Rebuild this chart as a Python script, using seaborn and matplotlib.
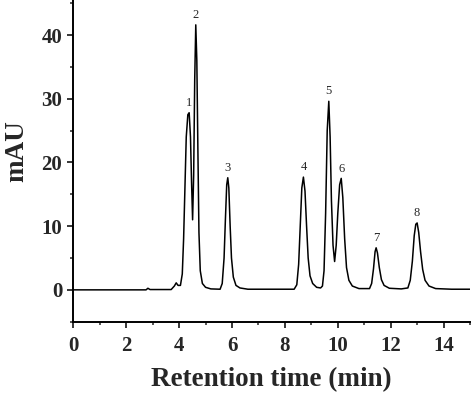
import numpy as np
import pandas as pd
import seaborn as sns
import matplotlib.pyplot as plt
from matplotlib.ticker import MultipleLocator

# chromatogram trace (min, mAU)
time_min = [0.0, 2.75, 2.82, 2.9, 3.7, 3.82, 3.89, 3.96, 4.05,
            4.12, 4.17, 4.22, 4.27, 4.33, 4.38, 4.43, 4.47, 4.51, 4.55, 4.59,
            4.63, 4.67, 4.71, 4.75, 4.80, 4.88, 5.0, 5.2,
            5.55, 5.63, 5.70, 5.75, 5.80, 5.84, 5.88, 5.93, 5.98, 6.05, 6.15,
            6.3, 6.6,
            8.35, 8.45, 8.52, 8.58, 8.64, 8.70, 8.76, 8.82, 8.88, 8.95, 9.05,
            9.2, 9.35,
            9.42, 9.48, 9.54, 9.60, 9.66, 9.71, 9.76, 9.82, 9.88, 9.94, 10.0,
            10.07, 10.13, 10.19, 10.26, 10.33, 10.42, 10.55, 10.8,
            11.2, 11.28, 11.35, 11.41, 11.45, 11.50, 11.57, 11.65, 11.75,
            11.95, 12.4,
            12.65, 12.74, 12.82, 12.89, 12.95, 13.0, 13.06, 13.13, 13.21,
            13.3, 13.45, 13.7, 14.3, 15.0]
signal_mau = [0.0, 0.0, 0.25, 0.05, 0.05, 0.6, 1.1, 0.7, 0.7,
              2.5, 8.0, 16.0, 24.0, 27.5, 27.8, 24.0, 17.0, 11.0, 18.0, 33.0,
              41.6, 36.0, 22.0, 9.0, 3.0, 1.0, 0.4, 0.15,
              0.1, 1.0, 5.0, 11.0, 16.5, 17.6, 16.0, 10.0, 5.0, 2.0, 0.7,
              0.3, 0.1,
              0.1, 0.8, 4.0, 10.0, 16.0, 17.7, 15.5, 10.0, 5.0, 2.2, 1.0,
              0.4, 0.3,
              0.6, 3.0, 12.0, 25.0, 29.6, 24.0, 14.0, 7.0, 4.45, 7.0, 12.0,
              16.5, 17.5, 14.5, 8.0, 3.5, 1.5, 0.6, 0.2,
              0.2, 1.0, 3.3, 6.0, 6.6, 5.8, 3.5, 1.6, 0.7,
              0.25, 0.15,
              0.3, 1.5, 4.5, 8.5, 10.3, 10.5, 9.0, 6.0, 3.2,
              1.5, 0.6, 0.2, 0.1, 0.1]

peak_labels = ["1", "2", "3", "4", "5", "6", "7", "8"]
peak_times = [4.36, 4.63, 5.84, 8.70, 9.66, 10.13, 11.45, 12.99]
peak_heights = [27.8, 41.6, 17.6, 17.7, 29.6, 17.5, 6.6, 10.5]

sns.set_style("ticks")
plt.rcParams["font.family"] = ["Liberation Serif", "DejaVu Serif"]

df = pd.DataFrame({"time": time_min, "signal": signal_mau})

fig = plt.figure(figsize=(4.74, 3.96), dpi=100)
ax = fig.add_axes([0.1547, 0.1876, 0.8369, 0.8124])

sns.lineplot(data=df, x="time", y="signal", color="black", linewidth=1.1, ax=ax)

for lab, t, h in zip(peak_labels, peak_times, peak_heights):
    ax.text(t, h + 0.6, lab, ha="center", va="bottom", fontsize=9)

ax.set_xlim(0, 15)
ax.set_ylim(-5, 45.5)
ax.xaxis.set_major_locator(MultipleLocator(2))
ax.xaxis.set_minor_locator(MultipleLocator(1))
ax.yaxis.set_major_locator(MultipleLocator(10))
ax.yaxis.set_minor_locator(MultipleLocator(5))
ax.set_yticks([0, 10, 20, 30, 40])
ax.tick_params(which="major", length=4.5, width=1.3, labelsize=15, direction="out")
ax.tick_params(axis="x", which="major", pad=6)
ax.tick_params(which="minor", length=2.5, width=1.1, direction="out")
for t in ax.get_xticklabels() + ax.get_yticklabels():
    t.set_fontweight("bold")

sns.despine(ax=ax)
for s in ["left", "bottom"]:
    ax.spines[s].set_linewidth(1.4)
    ax.spines[s].set_color("black")

ax.set_xlabel("Retention time (min)", fontsize=19.5, fontweight="bold", labelpad=8)
ax.set_ylabel("mAU", fontsize=19.5, fontweight="bold")
ax.yaxis.set_label_coords(-0.11, 0.53)

fig.savefig("out.png", dpi=100)
